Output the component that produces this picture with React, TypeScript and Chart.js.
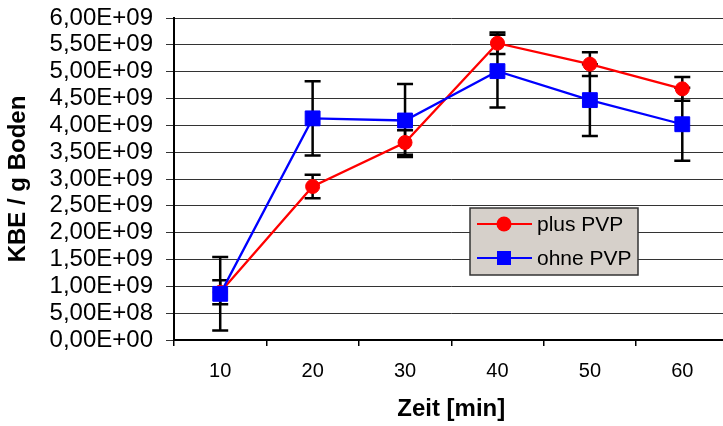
import React, { useEffect, useRef } from 'react';
import { Chart, registerables } from 'chart.js';

Chart.register(...registerables);

// ---- data ----
const categories = ['10', '20', '30', '40', '50', '60'];
const plusPVP = [0.89e9, 2.86e9, 3.68e9, 5.53e9, 5.14e9, 4.68e9];
const ohnePVP = [0.86e9, 4.13e9, 4.09e9, 5.01e9, 4.47e9, 4.02e9];
const plusPVPErr = [0.225e9, 0.22e9, 0.23e9, 0.2e9, 0.22e9, 0.22e9];
const ohnePVPErr = [0.685e9, 0.69e9, 0.68e9, 0.68e9, 0.67e9, 0.68e9];
const seriesNames = ['plus PVP', 'ohne PVP'];
const yMin = 0;
const yMax = 6e9;
const yStep = 5e8;
const xTitle = 'Zeit [min]';
const yTitle = 'KBE / g Boden';

const FONT = 'Liberation Sans, Arial, Helvetica, sans-serif';
const RED = '#FF0000';
const BLUE = '#0000FF';

function sci(v: number): string {
  if (v === 0) return '0,00E+00';
  const e = Math.floor(Math.log10(Math.abs(v)) + 1e-9);
  const m = v / Math.pow(10, e);
  const sign = e < 0 ? '-' : '+';
  return m.toFixed(2).replace('.', ',') + 'E' + sign + String(Math.abs(e)).padStart(2, '0');
}

const errorBarPlugin = {
  id: 'errorBars',
  beforeDatasetsDraw(chart: any) {
    const ctx = chart.ctx;
    const yScale = chart.scales.y;
    chart.data.datasets.forEach((ds: any, i: number) => {
      const meta = chart.getDatasetMeta(i);
      const errs: number[] = ds.errors || [];
      meta.data.forEach((pt: any, j: number) => {
        const v = ds.data[j];
        const e = errs[j];
        if (v == null || e == null) return;
        const x = pt.x;
        const yTop = yScale.getPixelForValue(v + e);
        const yBot = yScale.getPixelForValue(v - e);
        ctx.save();
        ctx.strokeStyle = '#000';
        ctx.lineWidth = 2.5;
        ctx.beginPath();
        ctx.moveTo(x, yTop);
        ctx.lineTo(x, yBot);
        ctx.moveTo(x - 8, yTop);
        ctx.lineTo(x + 8, yTop);
        ctx.moveTo(x - 8, yBot);
        ctx.lineTo(x + 8, yBot);
        ctx.stroke();
        ctx.restore();
      });
    });
  },
};

const customLegendPlugin = {
  id: 'customLegend',
  afterDraw(chart: any) {
    const ctx = chart.ctx;
    const bx = 470;
    const by = 208;
    const bw = 168;
    const bh = 67;
    ctx.save();
    ctx.fillStyle = '#D6D0CA';
    ctx.fillRect(bx, by, bw, bh);
    ctx.strokeStyle = '#333';
    ctx.lineWidth = 1.5;
    ctx.strokeRect(bx, by, bw, bh);
    const items = [
      { name: seriesNames[0], color: RED, shape: 'circle', y: by + 16 },
      { name: seriesNames[1], color: BLUE, shape: 'rect', y: by + 50 },
    ];
    items.forEach((it) => {
      ctx.strokeStyle = it.color;
      ctx.lineWidth = 2;
      ctx.beginPath();
      ctx.moveTo(bx + 7, it.y);
      ctx.lineTo(bx + 62, it.y);
      ctx.stroke();
      ctx.fillStyle = it.color;
      const mx = bx + 34;
      if (it.shape === 'circle') {
        ctx.beginPath();
        ctx.arc(mx, it.y, 7.5, 0, Math.PI * 2);
        ctx.fill();
      } else {
        ctx.fillRect(mx - 7, it.y - 7, 14, 14);
      }
      ctx.fillStyle = '#000';
      ctx.font = `21px ${FONT}`;
      ctx.textAlign = 'left';
      ctx.textBaseline = 'middle';
      ctx.fillText(it.name, bx + 67, it.y + 1);
    });
    ctx.restore();
  },
};

export default function App() {
  const canvasRef = useRef<HTMLCanvasElement | null>(null);

  useEffect(() => {
    const canvas = canvasRef.current;
    if (!canvas) return;
    const chart = new Chart(canvas, {
      type: 'line',
      data: {
        labels: categories,
        datasets: [
          {
            label: seriesNames[0],
            data: plusPVP,
            errors: plusPVPErr,
            borderColor: RED,
            backgroundColor: RED,
            borderWidth: 2.3,
            pointStyle: 'circle',
            pointRadius: 7,
            pointBorderWidth: 1,
            pointBorderColor: RED,
            pointBackgroundColor: RED,
            order: 1,
          } as any,
          {
            label: seriesNames[1],
            data: ohnePVP,
            errors: ohnePVPErr,
            borderColor: BLUE,
            backgroundColor: BLUE,
            borderWidth: 2.3,
            pointStyle: 'rect',
            pointRadius: 10.5,
            pointBorderWidth: 1,
            pointBorderColor: BLUE,
            pointBackgroundColor: BLUE,
            order: 0,
          } as any,
        ],
      },
      options: {
        responsive: false,
        animation: false,
        devicePixelRatio: 1,
        layout: { padding: { top: 18, right: 9, bottom: 0, left: 0 } },
        plugins: {
          legend: { display: false },
          tooltip: { enabled: false },
        },
        scales: {
          x: {
            type: 'category',
            offset: true,
            grid: {
              offset: true,
              drawOnChartArea: false,
              drawTicks: true,
              tickLength: 6,
              color: '#000',
              lineWidth: 1.5,
            },
            border: { display: true, color: '#000', width: 2 },
            ticks: {
              color: '#000',
              font: { family: FONT, size: 20 },
              padding: 13,
              maxRotation: 0,
              autoSkip: false,
            },
            title: {
              display: true,
              text: xTitle,
              color: '#000',
              font: { family: FONT, size: 24, weight: 'bold' },
              padding: { top: 0, bottom: 2.6 },
            },
            afterFit: (scale: any) => {
              scale.height = 86;
            },
          },
          y: {
            type: 'linear',
            min: yMin,
            max: yMax,
            grid: {
              color: '#333',
              lineWidth: 1,
              drawTicks: true,
              tickLength: 8,
            },
            border: { display: true, color: '#000', width: 2 },
            ticks: {
              stepSize: yStep,
              autoSkip: false,
              color: '#000',
              font: { family: FONT, size: 24 },
              padding: 13,
              callback: (v: any) => sci(Number(v)),
            },
            title: {
              display: true,
              text: yTitle,
              color: '#000',
              font: { family: FONT, size: 24, weight: 'bold' },
              padding: { top: 4, bottom: 0 },
            },
            afterFit: (scale: any) => {
              scale.width = 174;
              scale.paddingTop = 0;
              scale.paddingBottom = 0;
            },
          },
        },
      },
      plugins: [errorBarPlugin, customLegendPlugin],
    } as any);
    return () => {
      chart.destroy();
    };
  }, []);

  return (
    <div
      style={{
        position: 'fixed',
        left: 0,
        top: 0,
        width: 723,
        height: 426,
        overflow: 'hidden',
        background: '#fff',
      }}
    >
      <canvas
        ref={canvasRef}
        width={740}
        height={426}
        style={{ display: 'block', width: 740, height: 426 }}
      />
    </div>
  );
}
